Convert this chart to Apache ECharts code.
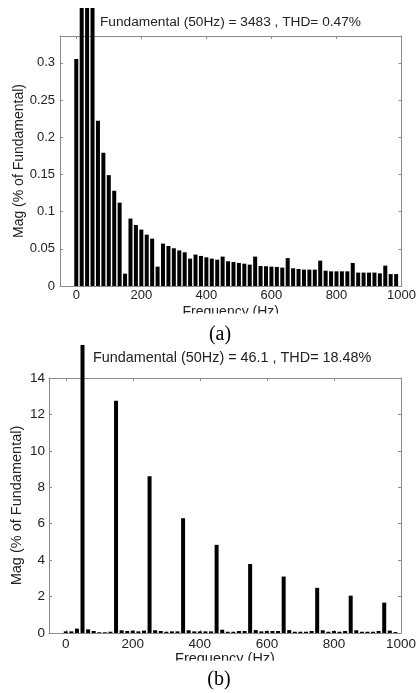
<!DOCTYPE html>
<html>
<head>
<meta charset="utf-8">
<script src="https://cdn.jsdelivr.net/npm/echarts@6/dist/echarts.min.js"></script>
<style>
  html, body { margin: 0; padding: 0; background: #fff; }
  body { width: 419px; height: 693px; position: relative; overflow: hidden; }
  #chartA { position: absolute; left: 0; top: 8px; width: 419px; height: 337px; }
  #chartB { position: absolute; left: 0; top: 345px; width: 419px; height: 348px; }
</style>
</head>
<body>
<div id="chartA"></div>
<div id="chartB"></div>
<script>
// Frequency bins (Hz) of the spectrum
const freqHz = [0, 16.67, 33.33, 50, 66.67, 83.33, 100, 116.67, 133.33, 150,
  166.67, 183.33, 200, 216.67, 233.33, 250, 266.67, 283.33, 300, 316.67,
  333.33, 350, 366.67, 383.33, 400, 416.67, 433.33, 450, 466.67, 483.33,
  500, 516.67, 533.33, 550, 566.67, 583.33, 600, 616.67, 633.33, 650,
  666.67, 683.33, 700, 716.67, 733.33, 750, 766.67, 783.33, 800, 816.67,
  833.33, 850, 866.67, 883.33, 900, 916.67, 933.33, 950, 966.67, 983.33];

// (a) magnitudes, % of fundamental
const magA = [0.305, 0.45, 0.6, 100, 0.222, 0.179, 0.149, 0.128, 0.112, 0.0166,
  0.0906, 0.082, 0.0758, 0.069, 0.0637, 0.026, 0.057, 0.0538, 0.0507, 0.0478,
  0.0453, 0.0368, 0.0422, 0.0404, 0.0386, 0.0368, 0.0354, 0.0395, 0.0332, 0.0323,
  0.031, 0.030, 0.0287, 0.0395, 0.0269, 0.0265, 0.026, 0.0256, 0.0247, 0.0375,
  0.0238, 0.0229, 0.022, 0.022, 0.022, 0.0341, 0.0206, 0.0197, 0.0197, 0.0197,
  0.0197, 0.031, 0.018, 0.018, 0.018, 0.018, 0.017, 0.0274, 0.016, 0.016];

// (b) magnitudes, % of fundamental
const magB = [0.09, 0.09, 0.24, 100, 0.2, 0.11, 0.04, 0.04, 0.07, 12.75,
  0.15, 0.11, 0.13, 0.09, 0.13, 8.6, 0.15, 0.11, 0.07, 0.09,
  0.09, 6.3, 0.15, 0.09, 0.09, 0.09, 0.09, 4.84, 0.18, 0.07,
  0.07, 0.11, 0.11, 3.79, 0.16, 0.09, 0.11, 0.11, 0.11, 3.1,
  0.16, 0.07, 0.07, 0.07, 0.11, 2.48, 0.15, 0.07, 0.11, 0.07,
  0.11, 2.05, 0.15, 0.07, 0.07, 0.07, 0.11, 1.67, 0.13, 0.05];

const xTicks = [0, 200, 400, 600, 800, 1000];
const yTicksA = [0, 0.05, 0.1, 0.15, 0.2, 0.25, 0.3];
const yTicksB = [0, 2, 4, 6, 8, 10, 12, 14];

const titleA = 'Fundamental (50Hz) = 3483 , THD= 0.47%';
const titleB = 'Fundamental (50Hz) = 46.1 , THD= 18.48%';
const xName = 'Frequency (Hz)';
const yName = 'Mag (% of Fundamental)';
const captionA = '(a)';
const captionB = '(b)';

const FONT = "'Liberation Sans', Arial, sans-serif";
const SERIF = "'Liberation Serif', 'Times New Roman', serif";
const TXT = '#222';
const AX = '#8c8c8c';

function build(c) {
  const axLine = { show: true, onZero: false, lineStyle: { color: AX, width: 1 } };
  const tick = (vals) => ({ show: true, inside: true, length: 3, customValues: vals, lineStyle: { color: AX } });
  const fmt = (v) => String(v);
  return {
    animation: false,
    backgroundColor: '#fff',
    title: {
      text: c.title, left: c.titleLeft, top: c.titleTop, padding: 0,
      textStyle: { fontFamily: FONT, fontSize: c.titleSize, fontWeight: 'normal', color: TXT }
    },
    grid: { left: c.left, right: c.right, top: c.top, height: c.height, containLabel: false },
    xAxis: [
      {
        type: 'value', position: 'bottom', min: -50, max: 1000,
        axisLine: axLine, axisTick: tick(xTicks), splitLine: { show: false },
        axisLabel: { customValues: xTicks, formatter: fmt, fontFamily: FONT, fontSize: c.tickSize, color: TXT, margin: c.xMargin },
        name: xName, nameLocation: 'middle', nameGap: c.xNameGap, nameMoveOverlap: false,
        nameTextStyle: { fontFamily: FONT, fontSize: c.nameSize, color: TXT }
      },
      {
        type: 'value', position: 'top', min: -50, max: 1000,
        axisLine: axLine, axisTick: tick(xTicks), splitLine: { show: false },
        axisLabel: { show: false }
      }
    ],
    yAxis: [
      {
        type: 'value', position: 'left', min: 0, max: c.ymax,
        axisLine: axLine, axisTick: tick(c.yTicks), splitLine: { show: false },
        axisLabel: { customValues: c.yTicks, formatter: fmt, fontFamily: FONT, fontSize: c.tickSize, color: TXT, margin: c.yMargin },
        name: yName, nameLocation: 'middle', nameGap: c.yNameGap, nameMoveOverlap: false,
        nameTextStyle: { fontFamily: FONT, fontSize: c.nameSize, color: TXT }
      },
      {
        type: 'value', position: 'right', min: 0, max: c.ymax,
        axisLine: axLine, axisTick: tick(c.yTicks), splitLine: { show: false },
        axisLabel: { show: false }
      }
    ],
    series: [{
      type: 'bar', xAxisIndex: 0, yAxisIndex: 0,
      data: freqHz.map((f, i) => [f, c.mags[i]]),
      barWidth: 4, clip: false,
      itemStyle: { color: '#000' }
    }],
    graphic: [
      { type: 'rect', z: 100, shape: { x: 0, y: c.cutTop, width: 419, height: c.cutH }, style: { fill: '#fff' } },
      { type: 'text', z: 101, x: c.capX, y: c.capY,
        style: { text: c.caption, font: '20px ' + SERIF, fill: '#000', textAlign: 'center', textVerticalAlign: 'middle' } }
    ]
  };
}

const chartA = echarts.init(document.getElementById('chartA'), null, { renderer: 'canvas' });
chartA.setOption(build({
  title: titleA, titleLeft: 100, titleTop: 7, titleSize: 13.7,
  left: 60, right: 17, top: 28, height: 250,
  ymax: 0.336, yTicks: yTicksA, mags: magA,
  tickSize: 13, nameSize: 14, xMargin: 3, yMargin: 5, xNameGap: 19, yNameGap: 34,
  cutTop: 305.5, cutH: 10.5, caption: captionA, capX: 220, capY: 327
}));

const chartB = echarts.init(document.getElementById('chartB'), null, { renderer: 'canvas' });
chartB.setOption(build({
  title: titleB, titleLeft: 93, titleTop: 6, titleSize: 14.4,
  left: 49, right: 13.5, top: 33, height: 255,
  ymax: 14, yTicks: yTicksB, mags: magB,
  tickSize: 13.5, nameSize: 14.5, xMargin: 4, yMargin: 4, xNameGap: 18, yNameGap: 25,
  cutTop: 315.7, cutH: 9.5, caption: captionB, capX: 219, capY: 335
}));
</script>
</body>
</html>
